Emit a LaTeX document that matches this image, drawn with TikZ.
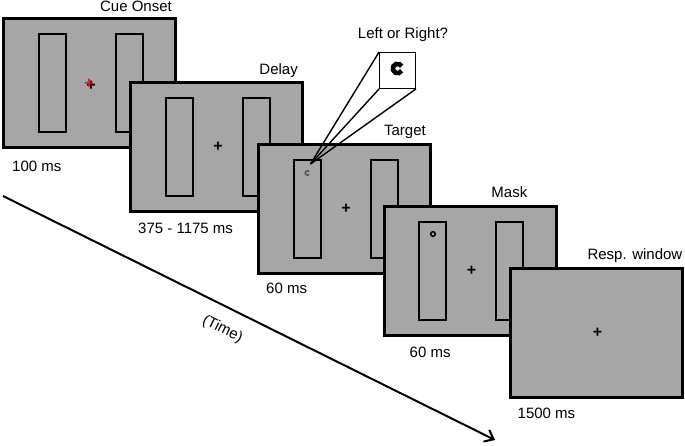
\documentclass[tikz,border=0pt]{standalone}
\usepackage{fontspec}
\setmainfont{Liberation Sans}
\usetikzlibrary{arrows.meta,calc}
\definecolor{screen}{RGB}{166,166,166}
\definecolor{cuered}{RGB}{230,20,20}

\begin{document}
\begin{tikzpicture}[x=1pt,y=-1pt]
\tikzstyle{frame}=[rectangle, draw=black, fill=screen, line width=3pt, minimum width=172pt, minimum height=129pt, inner sep=0pt, node distance=127pt]
\tikzstyle{placeholder}=[rectangle, draw=black, line width=2pt, minimum width=27pt, minimum height=98pt, inner sep=0pt]
\tikzstyle{fix}=[inner sep=0pt, font=\fontsize{16}{16}\selectfont\bfseries]
\tikzstyle{caption}=[inner sep=0pt, font=\fontsize{15}{18}\selectfont]
\tikzstyle{connect}=[line width=1.4pt]
\tikzstyle{timeline}=[-{Straight Barb[length=8pt,width=13pt,line width=2pt]}, line width=2pt]

\useasboundingbox (0,0) rectangle (685,446);

  % cue onset
  \node[frame] (cue) at (89.5,83.5) {};
  \node[placeholder, left of =cue, node distance=37.5pt] (cueL) {};
  \node[placeholder, right of=cue, node distance=39.5pt] (cueR) {};
  \node[fix] (cuefixB) at (cue) [xshift=1.5pt, yshift=-2pt] {+};
  \node[fix, cuered] (cuefix) at (cue) [xshift=-0.5pt, yshift=0pt] {+};
  \node[caption, anchor=base east, xshift=-5pt, yshift=6pt] (cuelbl) at (cue.north east) {Cue Onset};
  \node[caption, anchor=base west, xshift=10pt, yshift=-22pt] (cuetime) at (cue.south west) {100 ms};

  % delay
  \node[frame] (delay) [right of =cue, yshift=-63.5pt] {};
  \node[placeholder, left of =delay, node distance=37.5pt] (delayL) {};
  \node[placeholder, right of=delay, node distance=39.5pt] (delayR) {};
  \node[fix] (delayfix) at (delay) [xshift=1.5pt] {+};
  \node[caption, anchor=base east, xshift=-6pt, yshift=6pt] (delaylbl) at (delay.north east) {Delay};
  \node[caption, anchor=base west, xshift=9pt, yshift=-21pt] (delaytime) at (delay.south west) {375 - 1175 ms};

  % target
  \node[frame] (target) [right of =delay, xshift=1pt, yshift=-62pt] {};
  \node[placeholder, left of =target, node distance=37.5pt] (targetL) {};
  \node[placeholder, right of=target, node distance=39.5pt] (targetR) {};
  \node[fix] (targetfix) at (target) [xshift=1.5pt] {+};
  \node[caption, anchor=base east, xshift=-6pt, yshift=7pt] (targetlbl) at (target.north east) {Target};
  \node[caption, anchor=base west, xshift=9pt, yshift=-19pt] (targettime) at (target.south west) {60 ms};
  \coordinate (tgt) at ($(targetL.north)+(0.5,14)$);
  \draw[line width=1.6pt, black!65] ($(tgt)+(40:2.2)$) arc (40:320:2.2);
  \coordinate (apex) at ($(tgt)+(3,-9)$);

  % zoomed view of the target
  \node[rectangle, draw=black, fill=white, line width=1.4pt, minimum size=35.5pt, inner sep=0pt] (zoombox) at (397.5,70.5) {};
  \draw[connect] (apex) -- (zoombox.north west);
  \draw[connect] (apex) -- (zoombox.south west);
  \draw[connect] (apex) -- (zoombox.south east);
  \coordinate (bigc) at ($(zoombox.center)+(0,-2)$);
  \draw[line width=4.6pt] ($(bigc)+(28:4.7)$) arc (28:332:4.7);
  \node[caption, anchor=base, xshift=5.5pt, yshift=14pt] (question) at (zoombox.north) {Left or Right?};

  % mask
  \node[frame] (mask) [right of =target, xshift=-1.5pt, yshift=-62pt] {};
  \node[placeholder, left of =mask, node distance=37.5pt] (maskL) {};
  \node[placeholder, right of=mask, node distance=39.5pt] (maskR) {};
  \node[fix] (maskfix) at (mask) [xshift=1.5pt] {+};
  \node[caption, anchor=base east, xshift=-30pt, yshift=7pt] (masklbl) at (mask.north east) {Mask};
  \node[caption, anchor=base west, xshift=27pt, yshift=-20pt] (masktime) at (mask.south west) {60 ms};
  \coordinate (ring) at ($(maskL.north)+(0.5,13)$);
  \draw[line width=1.5pt] (ring) circle (2.3);

  % response window
  \node[frame] (resp) [right of =mask, xshift=-1pt, yshift=-62pt] {};
  \node[fix] (respfix) at (resp) [xshift=1.5pt] {+};
  \node[caption, anchor=base east, xshift=-1pt, yshift=7pt] (resplbl) at (resp.north east) {Resp. window};
  \node[caption, anchor=base west, xshift=9pt, yshift=-19pt] (resptime) at (resp.south west) {1500 ms};

  % time axis
  \coordinate (t0) at (3,196);
  \coordinate (t1) at (495,440);
  \draw[timeline] (t0) -- node[caption, pos=0.466, sloped, below, inner ysep=14pt] (timelbl) {(Time)} (t1);

\end{tikzpicture}
\end{document}
